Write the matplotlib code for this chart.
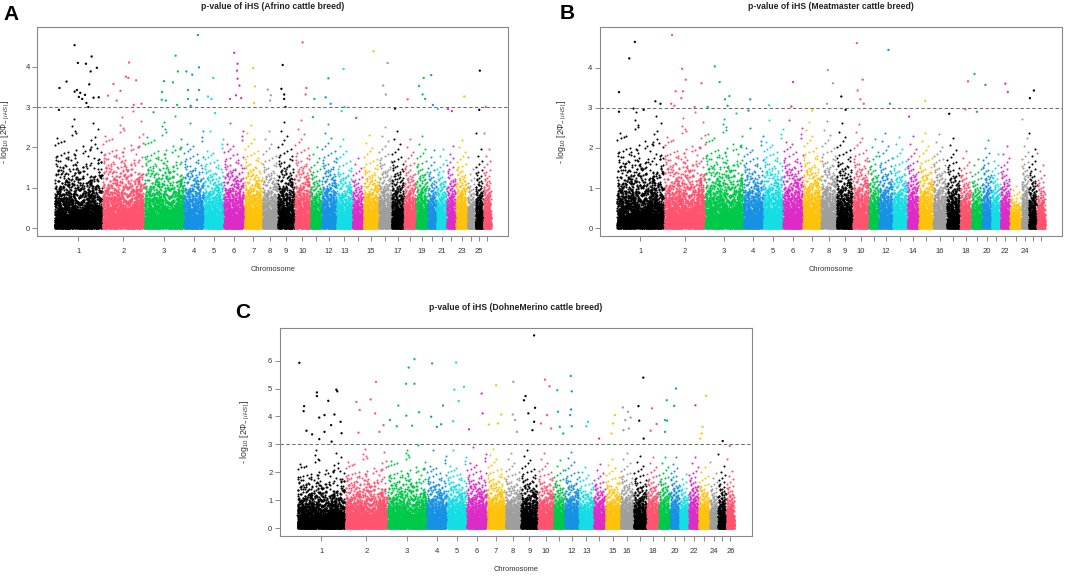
import numpy as np
import matplotlib
matplotlib.use('Agg')
import matplotlib.pyplot as plt

plt.rcParams['font.family'] = ['Liberation Sans', 'DejaVu Sans']
plt.rcParams['mathtext.fontset'] = 'custom'
plt.rcParams['mathtext.rm'] = 'Liberation Sans'
plt.rcParams['mathtext.it'] = 'Liberation Sans:italic'

# R-like colour cycle used for the chromosomes
palette = ['#000000', '#FF5370', '#00C94A', '#1791E3', '#14DDE4', '#DD2BC8', '#FFC20A', '#9E9E9E']

chroms = list(range(1, 27))

# span of every chromosome on the x axis
afr_len = [142, 124, 116, 59, 57, 60, 52, 44, 49, 45, 32, 43, 45, 31, 44, 36, 36, 34, 33, 25, 28, 26, 32, 22, 22, 22]
mea_len = [140, 121, 113, 58, 57, 58, 52, 44, 48, 46, 28, 40, 41, 33, 41, 39, 38, 32, 30, 26, 25, 27, 32, 20, 23, 23]
doh_len = [142, 125, 115, 59, 57, 59, 52, 45, 49, 45, 31, 41, 42, 33, 43, 38, 37, 34, 32, 26, 26, 27, 32, 22, 23, 23]

# upper edge of the bulk of points per chromosome
afr_top = [2.8, 2.9, 2.8, 2.7, 2.5, 2.7, 2.7, 2.6, 2.8, 2.9, 2.3, 2.8, 2.4, 2.0, 2.5, 2.8, 2.7, 2.5, 2.6, 2.3, 2.3, 2.4, 2.5, 1.8, 2.4, 2.4]
mea_top = [3.0, 2.9, 2.9, 2.6, 2.8, 2.8, 2.8, 2.9, 2.8, 2.8, 2.6, 2.6, 2.5, 2.6, 2.6, 2.6, 2.5, 2.2, 2.0, 2.6, 2.2, 2.4, 1.2, 2.8, 2.4, 1.9]
doh_top = [2.9, 3.0, 3.0, 2.9, 2.9, 3.0, 3.0, 2.9, 3.0, 2.9, 2.8, 3.0, 2.4, 2.6, 2.7, 3.0, 2.9, 2.9, 2.9, 3.0, 2.3, 3.0, 2.5, 2.4, 2.7, 2.5]

# top SNPs: chromosome, relative position inside the chromosome, -log10 p
afr_hit_chr = [1] * 20 + [2] * 10 + [3] * 9 + [4] * 9 + [5] * 4 + [6] * 8 + [7] * 3 + [8] * 3 + [9] * 5 \
    + [10] * 3 + [11] * 2 + [12] * 3 + [13] * 3 + [14] + [15] + [16] * 3 + [17] + [18] + [19] * 4 \
    + [20] * 2 + [21] + [22] * 2 + [23] + [25] * 2 + [26]
afr_hit_pos = [0.42, 0.49, 0.66, 0.78, 0.76, 0.89, 0.25, 0.10, 0.73, 0.42, 0.47, 0.54, 0.64, 0.67, 0.58, 0.51, 0.71, 0.82, 0.93, 0.09,
               0.64, 0.56, 0.62, 0.81, 0.26, 0.43, 0.13, 0.34, 0.94, 0.75,
               0.80, 0.50, 0.73, 0.86, 0.45, 0.44, 0.55, 0.84, 0.23,
               0.71, 0.12, 0.42, 0.76, 0.20, 0.76, 0.20, 0.66, 0.34,
               0.47, 0.19, 0.38, 0.57,
               0.51, 0.68, 0.65, 0.68, 0.77, 0.60, 0.30, 0.86,
               0.49, 0.59, 0.55,
               0.35, 0.56, 0.51,
               0.29, 0.21, 0.38, 0.38, 0.46,
               0.51, 0.76, 0.71,
               0.35, 0.21,
               0.45, 0.26, 0.61,
               0.44, 0.51, 0.31,
               0.35,
               0.68,
               0.72, 0.36, 0.58,
               0.29,
               0.30,
               0.68, 0.26, 0.58, 0.81,
               0.40, 0.60,
               0.10,
               0.13, 0.57,
               0.76,
               0.58, 0.50,
               0.29]
afr_hit_val = [4.53, 4.09, 4.07, 4.25, 3.88, 3.97, 3.63, 3.47, 3.56, 3.38, 3.42, 3.35, 3.30, 3.10, 3.20, 3.25, 3.00, 3.23, 3.24, 2.93,
               4.10, 3.75, 3.72, 3.66, 3.57, 3.40, 3.28, 3.16, 3.08, 3.05,
               4.27, 3.64, 3.61, 3.88, 3.37, 3.18, 3.16, 3.05, 2.87,
               4.78, 3.88, 3.80, 3.98, 3.42, 3.42, 3.20, 3.18, 3.03,
               3.72, 3.26, 3.20, 2.85,
               4.34, 4.07, 3.90, 3.70, 3.53, 3.29, 3.20, 3.22,
               3.96, 3.51, 3.10,
               3.43, 3.29, 3.16,
               4.04, 3.45, 3.31, 3.20, 3.00,
               4.60, 3.47, 3.31,
               3.20, 2.75,
               3.71, 3.24, 3.08,
               3.94, 3.00, 2.90,
               2.73,
               4.38,
               4.09, 3.53, 3.31,
               2.96,
               3.19,
               3.72, 3.52, 3.31, 3.20,
               3.79, 3.05,
               2.95,
               2.95, 2.90,
               3.26,
               3.90, 2.93,
               3.00]

mea_hit_chr = [1] * 8 + [2] * 10 + [3] * 6 + [4] * 2 + [5] + [6] * 2 + [7] + [8] * 3 + [9] * 2 + [10] * 5 \
    + [12] * 2 + [14] + [15] + [17] + [18] * 2 + [19] * 2 + [20] + [22] * 2 + [25] * 2
mea_hit_pos = [0.38, 0.26, 0.04, 0.82, 0.93, 0.35, 0.57, 0.04,
               0.19, 0.44, 0.53, 0.92, 0.46, 0.28, 0.42, 0.17, 0.75, 0.25,
               0.25, 0.38, 0.64, 0.52, 0.06, 0.59,
               0.34, 0.25,
               0.29,
               0.51, 0.42,
               0.52,
               0.45, 0.80, 0.39,
               0.30, 0.57,
               0.24, 0.62, 0.29, 0.47, 0.69,
               0.70, 0.81,
               0.15,
               0.45,
               0.17,
               0.72, 0.47,
               0.29, 0.52,
               0.36,
               0.52, 0.80,
               0.65, 0.13]
mea_hit_val = [4.64, 4.23, 3.39, 3.16, 3.10, 2.98, 2.95, 2.90,
               4.81, 3.97, 3.70, 3.61, 3.41, 3.41, 3.24, 3.10, 3.02, 3.05,
               4.03, 3.64, 3.29, 3.21, 3.02, 3.05,
               3.21, 2.93,
               3.06,
               3.64, 3.03,
               2.93,
               3.94, 3.61, 3.10,
               3.28, 2.95,
               4.61, 3.70, 3.43, 3.21, 3.10,
               4.44, 3.10,
               2.78,
               3.17,
               2.85,
               3.66, 2.96,
               3.84, 2.90,
               3.57,
               3.60, 3.39,
               3.43, 3.24]

doh_hit_chr = [1] * 19 + [2] * 8 + [3] * 10 + [4] * 5 + [5] * 5 + [6] * 3 + [7] * 4 + [8] * 4 + [9] * 7 \
    + [10] * 5 + [11] * 4 + [12] * 5 + [13] * 2 + [14] + [15] * 3 + [16] * 6 + [17] * 4 + [18] * 3 \
    + [19] * 4 + [20] * 2 + [22] + [23] * 4 + [25] + [26]
doh_hit_pos = [0.04, 0.41, 0.41, 0.82, 0.84, 0.65, 0.14, 0.13, 0.57, 0.46, 0.78, 0.71, 0.91, 0.19, 0.31, 0.57, 0.93, 0.46, 0.72,
               0.73, 0.60, 0.26, 0.34, 0.71, 0.91, 0.31, 0.81,
               0.69, 0.54, 0.47, 0.69, 0.27, 0.48, 0.81, 0.05, 0.63, 0.23,
               0.26, 0.81, 0.21, 0.50, 0.72,
               0.46, 0.87, 0.37, 0.59, 0.31,
               0.74, 0.79, 0.10,
               0.50, 0.79, 0.60, 0.08,
               0.52, 0.48, 0.64, 0.76,
               0.79, 0.27, 0.17, 0.44, 0.85, 0.79, 0.69,
               0.45, 0.75, 0.59, 0.18, 0.86,
               0.33, 0.40, 0.57, 0.90,
               0.43, 0.50, 0.45, 0.38, 0.50,
               0.62, 0.50,
               0.47,
               0.64, 0.52, 0.40,
               0.17, 0.58, 0.78, 0.36, 0.64, 0.22,
               0.75, 0.36, 0.42, 0.78,
               0.44, 0.84, 0.31,
               0.72, 0.56, 0.75, 0.56,
               0.63, 0.44,
               0.70,
               0.68, 0.35, 0.26, 0.13,
               0.59,
               0.42]
doh_hit_val = [5.92, 4.86, 4.73, 4.96, 4.90, 4.56, 4.37, 4.19, 4.05, 3.96, 4.07, 3.69, 3.81, 3.49, 3.36, 3.45, 3.40, 3.19, 3.10,
               5.24, 4.61, 4.52, 4.23, 4.11, 3.69, 3.42, 3.45,
               6.05, 5.75, 5.17, 5.17, 4.39, 4.03, 4.15, 3.87, 3.67, 3.65,
               5.90, 4.39, 3.99, 3.63, 3.72,
               5.93, 5.06, 4.96, 4.55, 3.83,
               4.82, 4.11, 3.54,
               5.12, 4.07, 3.75, 3.71,
               5.24, 4.07, 3.87, 3.45,
               6.90, 4.73, 4.58, 4.11, 4.31, 3.81, 3.51,
               5.32, 5.08, 4.05, 3.75, 3.57,
               4.94, 4.17, 3.63, 3.39,
               5.45, 4.90, 4.25, 4.05, 3.65,
               3.81, 3.65,
               3.21,
               4.05, 3.75, 3.39,
               4.32, 4.17, 3.96, 3.87, 3.57, 3.51,
               5.39, 4.37, 3.85, 3.21,
               4.29, 3.73, 3.49,
               4.58, 3.87, 3.85, 3.45,
               5.00, 4.38,
               4.40,
               4.74, 3.63, 3.39, 3.21,
               3.12,
               2.95]

# chromosomes that get a printed label (R drops the ones that would overlap)
afr_labels = [1, 2, 3, 4, 5, 6, 7, 8, 9, 10, 12, 13, 15, 17, 19, 21, 23, 25]
mea_labels = [1, 2, 3, 4, 5, 6, 7, 8, 9, 10, 12, 14, 16, 18, 20, 22, 24]
doh_labels = [1, 2, 3, 4, 5, 6, 7, 8, 9, 10, 12, 13, 15, 16, 18, 20, 22, 24, 26]

GAP = 2
DENSITY = 18  # SNPs per x unit


def bulk(n, top):
    # quantiles of the null distribution, spread along the chromosome
    k = np.arange(n)
    key = (k * k * 0.7071067811865476 + k * 0.6180339887498949) % 1.0
    rank = np.argsort(np.argsort(key))
    u = (rank + 0.5) / n
    v = top / 6.8 * -np.log(u)
    x = (k + 0.5) / n
    keep = v <= top
    return x[keep], v[keep]


def manhattan(ax, lengths, tops, hit_chr, hit_pos, hit_val, labels, title, ylab_px):
    starts = np.concatenate([[0], np.cumsum(np.array(lengths) + GAP)[:-1]])
    mids = starts + np.array(lengths) / 2.0
    for i, c in enumerate(chroms):
        n = int(round(DENSITY * lengths[i]))
        fx, v = bulk(n, tops[i])
        ax.scatter(starts[i] + fx * lengths[i], v, s=2.2, c=palette[i % 8], linewidths=0)
    hc = np.array(hit_chr) - 1
    hx = starts[hc] + np.array(hit_pos) * np.array(lengths)[hc]
    ax.scatter(hx, hit_val, s=2.8, c=[palette[i % 8] for i in hc], linewidths=0)

    xmax = starts[-1] + lengths[-1]
    ax.set_xlim(-0.04 * xmax, 1.04 * xmax)
    vmax = max(hit_val)
    ax.set_ylim(-0.04 * vmax, 1.04 * vmax)
    ax.axhline(3, color='#666666', lw=0.7, ls=(0, (3.5, 2.5)))

    ax.set_xticks(mids)
    ax.set_xticklabels([str(c) if c in labels else '' for c in chroms])
    ax.set_yticks(range(0, int(vmax) + 1))
    ax.tick_params(axis='both', length=3.5, width=0.6, color='#777777', labelsize=5.5, labelcolor='#333333')
    ax.tick_params(axis='x', pad=5)
    ax.tick_params(axis='y', pad=2)
    for sp in ax.spines.values():
        sp.set_color('#888888')
        sp.set_linewidth(0.8)
    ax.set_xlabel('Chromosome', fontsize=5.4, color='#333333', labelpad=8)
    ax.set_ylabel(r'- log$_{10}$ [2$\Phi_{-\,|\,iHS\,|}$]', fontsize=6.3, color='#333333')
    w_px = ax.get_position().width * 1065
    ax.yaxis.set_label_coords(-ylab_px / w_px, 0.5)
    ax.set_title(title, fontsize=6.2, fontweight='bold', color='#222222', pad=13)


fig = plt.figure(figsize=(10.65, 5.79), dpi=100)
axA = fig.add_axes([0.0350, 0.5924, 0.4423, 0.3604])
axB = fig.add_axes([0.5634, 0.5924, 0.4338, 0.3604])
axC = fig.add_axes([0.2629, 0.0743, 0.4429, 0.3597])

manhattan(axA, afr_len, afr_top, afr_hit_chr, afr_hit_pos, afr_hit_val, afr_labels,
          'p-value of iHS (Afrino cattle breed)', 25)
manhattan(axB, mea_len, mea_top, mea_hit_chr, mea_hit_pos, mea_hit_val, mea_labels,
          'p-value of iHS (Meatmaster cattle breed)', 31)
manhattan(axC, doh_len, doh_top, doh_hit_chr, doh_hit_pos, doh_hit_val, doh_labels,
          'p-value of iHS (DohneMerino cattle breed)', 28)

fig.text(11 / 1065, 1 - 14.5 / 579, 'A', fontsize=15, fontweight='bold', ha='center', va='center')
fig.text(567 / 1065, 1 - 13.5 / 579, 'B', fontsize=15, fontweight='bold', ha='center', va='center')
fig.text(243 / 1065, 1 - 312 / 579, 'C', fontsize=15, fontweight='bold', ha='center', va='center')

fig.savefig('out.png', dpi=100)
